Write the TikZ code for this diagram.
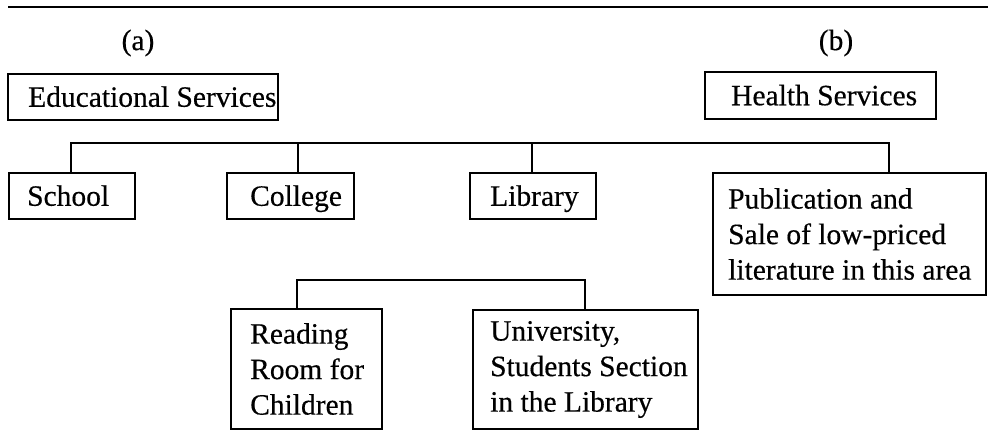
\documentclass[tikz,border=0pt]{standalone}
\usepackage{fontspec}
\setmainfont{Liberation Serif}[FakeBold=0.4]
\begin{document}
\begin{tikzpicture}[x=1pt,y=-1pt,
  box/.style={draw=black, line width=1.8pt, inner sep=0pt, outer sep=0pt, anchor=north west},
  txt/.style={inner sep=0pt, anchor=west, align=left, font=\fontsize{29.5}{35.5}\selectfont},
  one/.style={txt, text height=20.5pt, text depth=1pt},
  lbl/.style={inner sep=0pt, font=\fontsize{29.5}{35}\selectfont},
  conn/.style={line width=1.8pt}]
\useasboundingbox (0,0) rectangle (988,431);
% top rule
\coordinate (r1) at (8,7);
\coordinate (r2) at (988,7);
\draw[conn] (r1) -- (r2);
% labels
\node[lbl] (la) at (138,43) {(a)};
\node[lbl] (lb) at (836,43) {(b)};
% boxes
\node[box, minimum width=270pt, minimum height=46pt] (edu) at (8,74) {};
\node[one] (edut) at ([xshift=20pt]edu.west) {Educational Services};
\node[box, minimum width=231pt, minimum height=47pt] (health) at (705,72) {};
\node[one] (healtht) at ([xshift=26pt]health.west) {Health Services};
\node[box, minimum width=126pt, minimum height=46pt] (school) at (9,173) {};
\node[one] (schoolt) at ([xshift=18pt]school.west) {School};
\node[box, minimum width=127pt, minimum height=46pt] (college) at (227,173) {};
\node[one] (colleget) at ([xshift=23pt]college.west) {College};
\node[box, minimum width=126pt, minimum height=46pt] (library) at (470,173) {};
\node[one] (libraryt) at ([xshift=20pt]library.west) {Library};
\node[box, minimum width=273pt, minimum height=122pt] (pub) at (713,173) {};
\node[txt] (pubt) at ([xshift=15pt]pub.west) {Publication and\\Sale of low-priced\\literature in this area};
\node[box, minimum width=151pt, minimum height=120pt] (reading) at (231,309) {};
\node[txt] (readingt) at ([xshift=19pt]reading.west) {Reading\\Room for\\Children};
\node[box, minimum width=225pt, minimum height=119pt] (univ) at (473,310) {};
\node[txt] (univt) at ([xshift=17pt]univ.west) {University,\\Students Section\\in the Library};
% first bracket
\coordinate (j1) at (71,143);
\coordinate (j2) at (298,143);
\coordinate (j3) at (532,143);
\coordinate (j4) at (889,143);
\draw[conn] (school.north -| j1) -- (j1) -- (j4) -- (pub.north -| j4);
\draw[conn] (j2) -- (college.north -| j2);
\draw[conn] (j3) -- (library.north -| j3);
% second bracket
\coordinate (k1) at (297,280);
\coordinate (k2) at (585,280);
\draw[conn] (reading.north -| k1) -- (k1) -- (k2) -- (univ.north -| k2);
\end{tikzpicture}
\end{document}
